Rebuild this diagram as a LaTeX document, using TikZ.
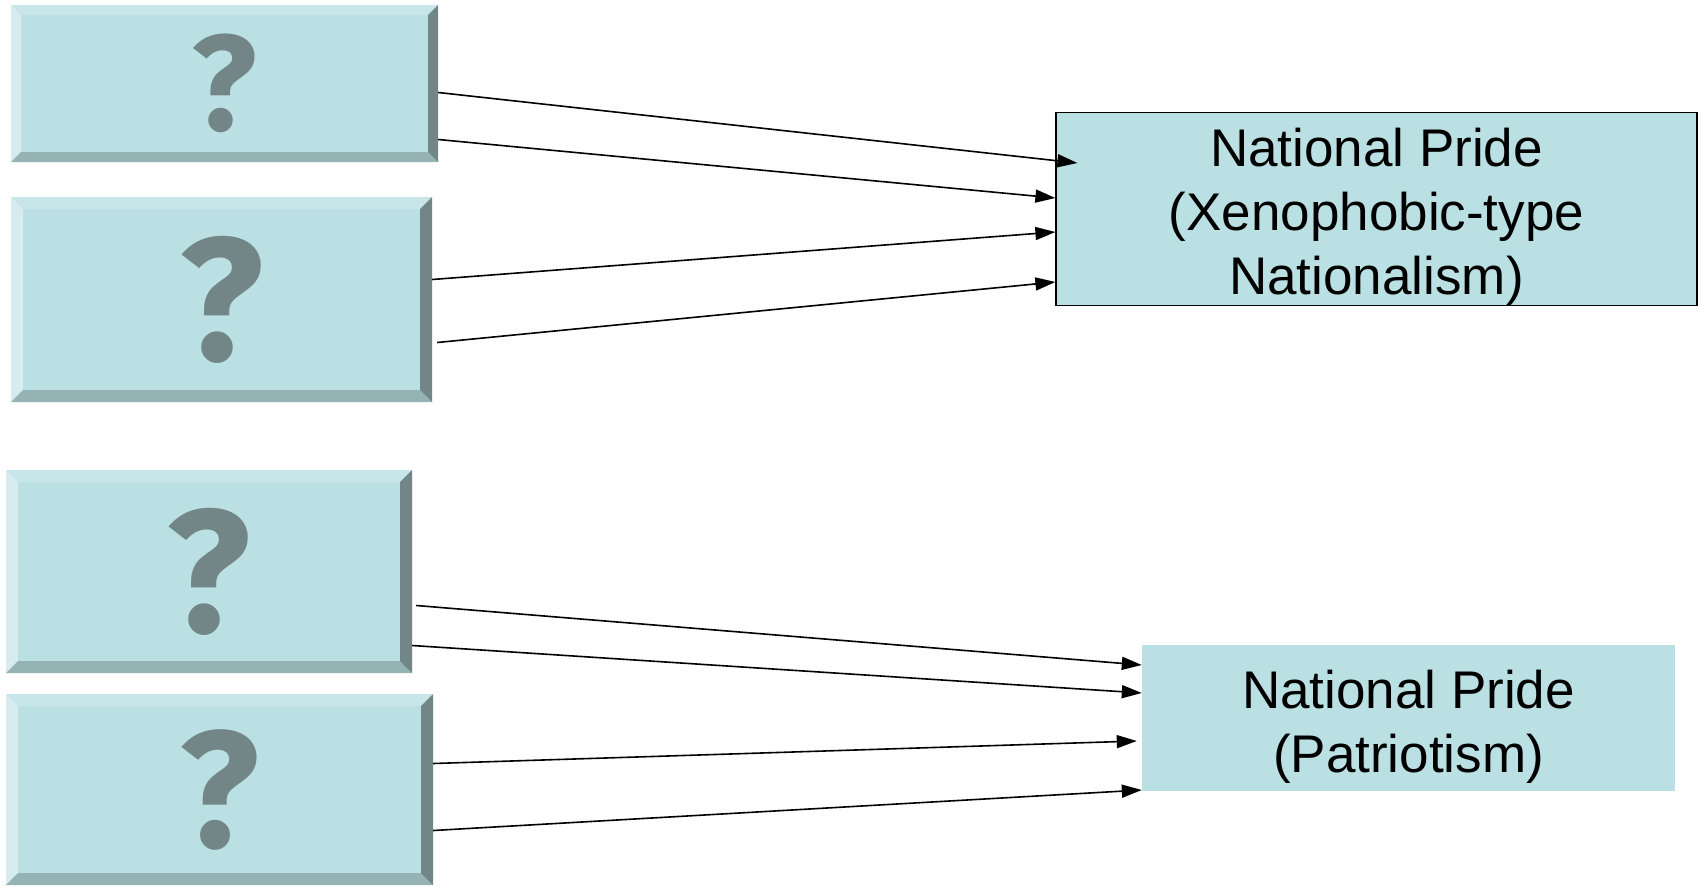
\documentclass[tikz,border=0pt]{standalone}
\usepackage{fontspec}
\setmainfont{Liberation Sans}
\newfontfamily\qfont{Fira Sans}
\usetikzlibrary{arrows.meta,calc}
\definecolor{boxfill}{HTML}{BBE0E3}
\definecolor{qcol}{HTML}{728587}
\definecolor{bvtop}{HTML}{C8E6E9}
\definecolor{bvleft}{HTML}{D6ECEE}
\definecolor{bvbot}{HTML}{95B2B5}
\definecolor{bvright}{HTML}{728688}
\tikzset{
  qbox/.style={fill=boxfill, inner sep=0pt, text=qcol, anchor=center},
  target/.style={fill=boxfill, inner sep=0pt, align=center, anchor=center,
    font=\fontsize{53}{64}\selectfont},
  conn/.style={line width=1.6pt, -{Triangle[length=20pt,width=13pt]}},
}
% name, x1, y1, x2, y2, bevel, font size
\newcommand\bevbox[7]{%
  \node[qbox, minimum width={#4-#2}, minimum height={#5-#3},
        font=\qfont\bfseries\fontsize{#7}{#7}\selectfont] (#1) at ({(#2+#4)/2},{(#3+#5)/2}) {?};
  \fill[bvtop] (#2,#3) -- (#4,#3) -- ({#4-#6},{#3+#6}) -- ({#2+#6},{#3+#6}) -- cycle;
  \fill[bvleft] (#2,#3) -- ({#2+#6},{#3+#6}) -- ({#2+#6},{#5-#6}) -- (#2,#5) -- cycle;
  \fill[bvbot] (#2,#5) -- ({#2+#6},{#5-#6}) -- ({#4-#6},{#5-#6}) -- (#4,#5) -- cycle;
  \fill[bvright] (#4,#3) -- (#4,#5) -- ({#4-#6},{#5-#6}) -- ({#4-#6},{#3+#6}) -- cycle;
}
\begin{document}
\begin{tikzpicture}[x=1pt,y=-1pt]
\useasboundingbox (0,0) rectangle (1702,886);
\bevbox{q1}{11}{5}{438}{162}{10}{136}
\bevbox{q2}{11}{197}{432}{402}{12}{175}
\bevbox{q3}{6}{470}{412}{673}{12}{175}
\bevbox{q4}{6}{694}{433}{885}{12}{166}

\node[target, draw=black, line width=1.2pt, minimum width=641pt, minimum height=192pt]
  (t1) at (1376.5,209) {\rule{0pt}{54pt}National Pride\\(Xenophobic-type\\Nationalism)};
\node[target, minimum width=533pt, minimum height=146pt]
  (t2) at (1408.5,718) {\rule{0pt}{55pt}National Pride\\(Patriotism)};

\draw[conn] ([yshift=-9pt]q1.east) -- ([xshift=22pt,yshift=46pt]t1.west);
\draw[conn] ([yshift=-56pt]q1.east) -- ([yshift=11pt]t1.west);
\draw[conn] ([yshift=20pt]q2.east) -- ([yshift=-23pt]t1.west);
\draw[conn] ([xshift=5pt,yshift=-43pt]q2.east) -- ([yshift=-73pt]t1.west);
\draw[conn] ([xshift=4pt,yshift=-34pt]q3.east) -- ([yshift=53pt]t2.west);
\draw[conn] ([yshift=-74pt]q3.east) -- ([yshift=25pt]t2.west);
\draw[conn] ([yshift=26pt]q4.east) -- ([xshift=-5pt,yshift=-23pt]t2.west);
\draw[conn] ([yshift=-41pt]q4.east) -- ([yshift=-72pt]t2.west);
\end{tikzpicture}
\end{document}
